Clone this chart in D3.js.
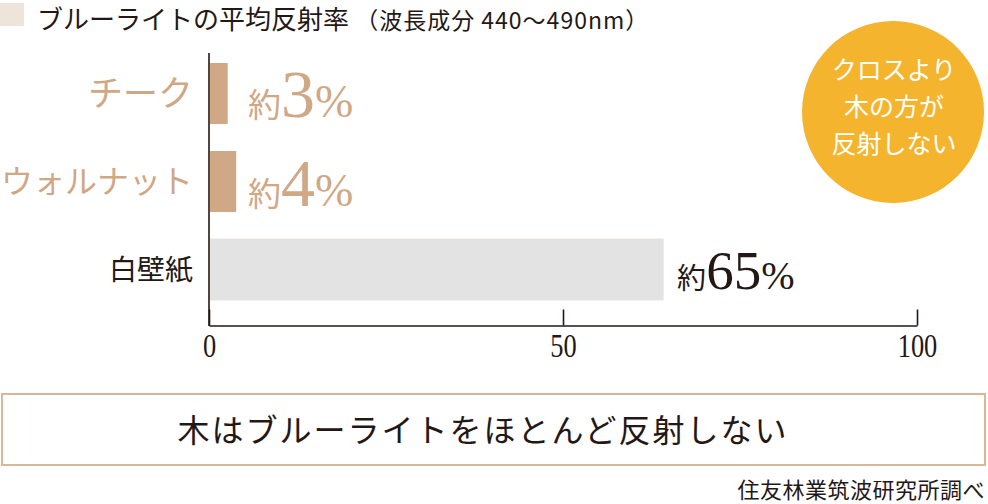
<!DOCTYPE html>
<html>
<head>
<meta charset="utf-8">
<script src="https://cdn.jsdelivr.net/npm/d3@7"></script>
<style>
  body { margin: 0; background: #fff; }
  svg text { font-family: "Noto Sans CJK JP", sans-serif; }
  .num { font-family: "Liberation Serif", serif; }
</style>
</head>
<body>
<svg id="chart" width="988" height="504"></svg>
<script>
// data
var categories = ["チーク", "ウォルナット", "白壁紙"];
var values = [2.5, 3.7, 64];
var valueNums = ["3", "4", "65"];
var tickValues = [0, 50, 100];
var circleLines = ["クロスより", "木の方が", "反射しない"];

var tan = "#cfa886";
var ink = "#231815";
var barColors = [tan, tan, "#e3e3e3"];
var labelColors = [tan, tan, ink];

var svg = d3.select("#chart");

var x = d3.scaleLinear().domain([0, 100]).range([209, 917]);
var y = d3.scaleBand().domain(categories).range([54.2, 308.8]).paddingInner(0.307).paddingOuter(0.1);

// legend / title
svg.append("rect")
    .attr("x", 0).attr("y", 3).attr("width", 24).attr("height", 23)
    .attr("fill", "#efe4da");
var title = svg.append("text")
    .attr("x", 37).attr("y", 29)
    .attr("fill", ink)
    .style("font-size", "26px");
title.append("tspan").text("ブルーライトの平均反射率");
title.append("tspan").style("font-size", "23px").style("letter-spacing", "1px").text(" （波長成分 440〜490nm）");

// bars
svg.selectAll(".bar")
    .data(categories)
    .enter().append("rect")
    .attr("class", "bar")
    .attr("x", x(0) + 1)
    .attr("y", d => y(d))
    .attr("height", y.bandwidth())
    .attr("width", (d, i) => x(values[i]) - x(0))
    .attr("fill", (d, i) => barColors[i])
    .attr("stroke", (d, i) => i == 2 ? "#e9e4dc" : "none");

// category labels
svg.selectAll(".cat")
    .data(categories)
    .enter().append("text")
    .attr("class", "cat")
    .attr("x", 193)
    .attr("y", d => y(d) + y.bandwidth() / 2)
    .attr("dy", "0.36em")
    .attr("text-anchor", "end")
    .attr("fill", (d, i) => labelColors[i])
    .style("font-size", (d, i) => i == 2 ? "28px" : (i == 0 ? "35px" : "32px"))
    .text(d => d);

// value labels
var vl = svg.selectAll(".val")
    .data(categories)
    .enter().append("text")
    .attr("class", "val")
    .attr("x", (d, i) => i == 2 ? x(values[i]) + 15 : 248)
    .attr("y", (d, i) => y(d) + y.bandwidth() / 2 + (i == 2 ? 19 : 24))
    .attr("fill", (d, i) => labelColors[i]);
vl.append("tspan")
    .style("font-size", (d, i) => i == 2 ? "29px" : "33px")
    .text("約");
vl.append("tspan")
    .attr("class", "num")
    .style("font-size", (d, i) => i == 2 ? "55px" : "68px")
    .text((d, i) => valueNums[i]);
vl.append("tspan")
    .attr("class", "num")
    .style("font-size", (d, i) => i == 2 ? "40px" : "46px")
    .text("%");

// axes
svg.append("line")
    .attr("x1", x(0)).attr("x2", x(0))
    .attr("y1", 53).attr("y2", 326)
    .attr("stroke", ink).attr("stroke-width", 1.6);

var xAxis = svg.append("g")
    .attr("transform", "translate(0,325.5)")
    .call(d3.axisBottom(x).tickValues(tickValues).tickSize(-16).tickSizeOuter(0).tickPadding(8));
xAxis.select(".domain").attr("stroke", ink).attr("stroke-width", 1.6);
xAxis.selectAll(".tick line").attr("stroke", ink).attr("stroke-width", 1.6);
xAxis.selectAll(".tick text")
    .attr("class", "num")
    .attr("fill", ink)
    .attr("transform", "scale(0.8,1)")
    .style("font-size", "33px")
    .attr("dy", "0.72em");

// circle note
svg.append("circle")
    .attr("cx", 893).attr("cy", 112).attr("r", 91)
    .attr("fill", "#f5b42d");
svg.selectAll(".cl")
    .data(circleLines)
    .enter().append("text")
    .attr("class", "cl")
    .attr("x", 894)
    .attr("y", (d, i) => 70 + i * 37)
    .attr("dy", "0.36em")
    .attr("text-anchor", "middle")
    .attr("fill", "#fff")
    .style("font-size", "25px")
    .text(d => d);

// message box
svg.append("rect")
    .attr("x", 2).attr("y", 394).attr("width", 983).attr("height", 71)
    .attr("fill", "none")
    .attr("stroke", "#d9b89a").attr("stroke-width", 2);
svg.append("text")
    .attr("x", 483).attr("y", 430)
    .attr("dy", "0.36em")
    .attr("text-anchor", "middle")
    .attr("fill", ink)
    .style("font-size", "32px")
    .style("letter-spacing", "2px")
    .text("木はブルーライトをほとんど反射しない");

// source
svg.append("text")
    .attr("x", 985).attr("y", 498)
    .attr("text-anchor", "end")
    .attr("fill", ink)
    .style("font-size", "22px")
    .style("letter-spacing", "0.5px")
    .text("住友林業筑波研究所調べ");
</script>
</body>
</html>
